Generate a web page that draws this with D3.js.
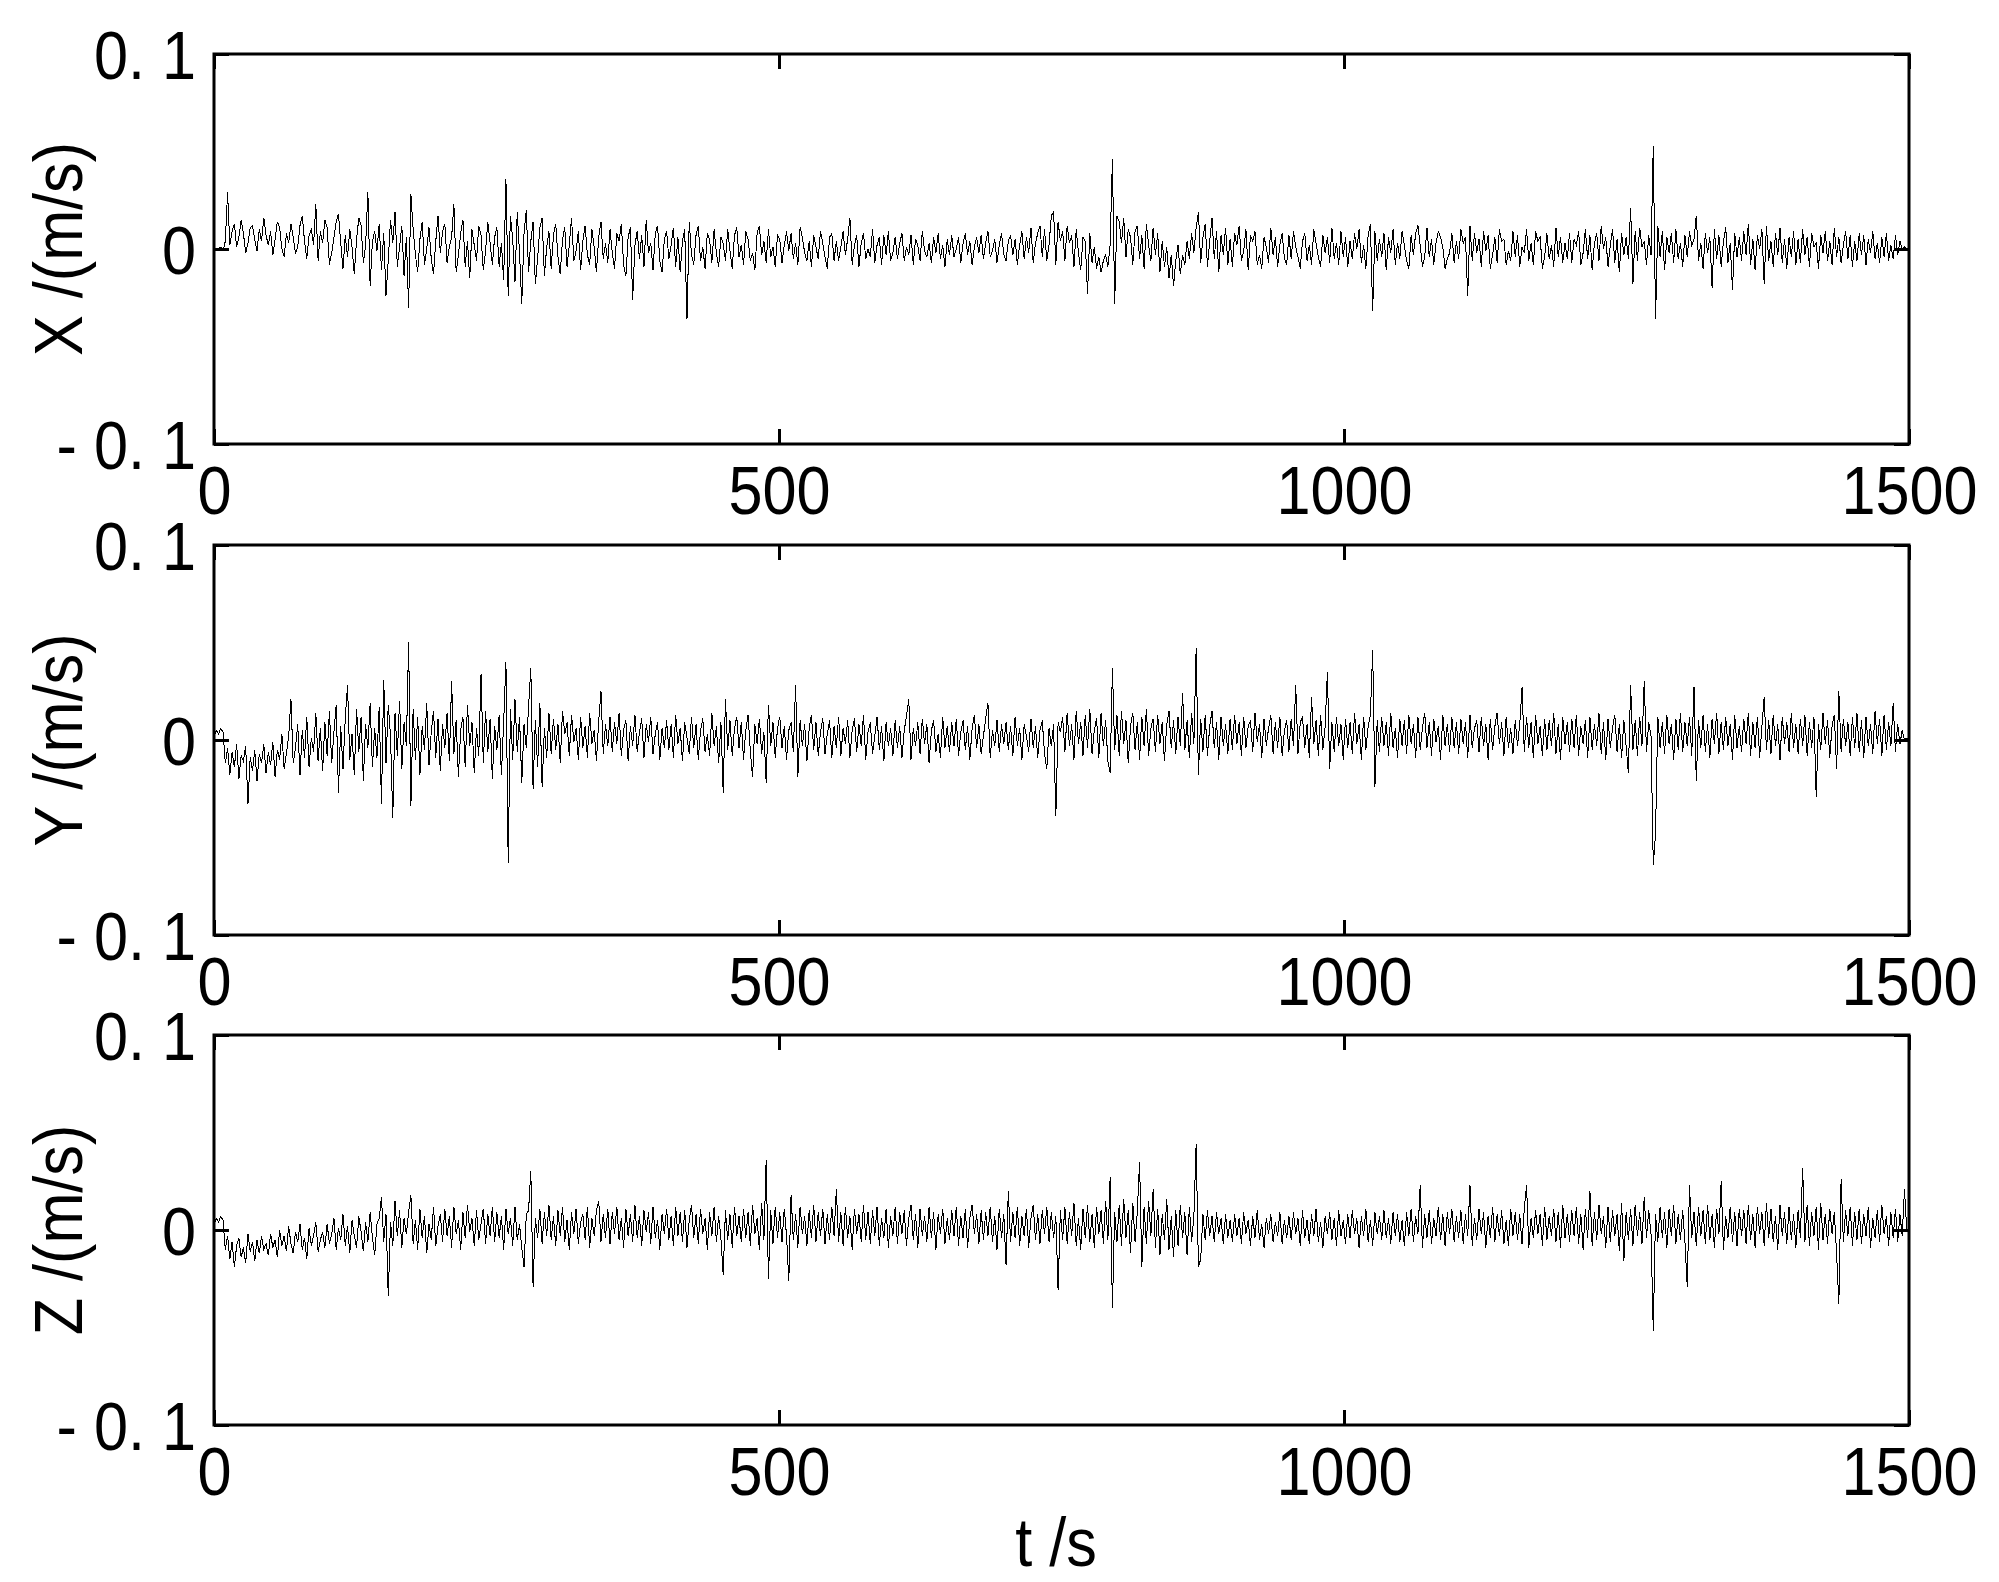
<!DOCTYPE html>
<html>
<head>
<meta charset="utf-8">
<script src="https://cdn.jsdelivr.net/npm/d3@7"></script>
<style>
  html, body { margin: 0; padding: 0; background: #fff; }
  svg { display: block; }
  text { font-family: "Liberation Sans", Arial, Helvetica, sans-serif; fill: #000; }
</style>
</head>
<body>
<svg id="chart" width="1999" height="1582"></svg>
<script>
// ---------------- DATA (velocity in units of 0.001 m/s, sampled every 2 s) ----------------
const UNIT = 0.001;
const T_START = 0, T_END = 1500;

const xVelocity = [
0,0,0,1,-1,4,29,2,9,13,1,6,15,8,-2,3,11,12,5,-1,10,4,16,7,2,
9,-3,5,14,11,0,-4,8,3,13,6,-2,1,12,17,4,-5,7,10,2,23,-6,9,3,15,
11,-8,-2,6,14,18,3,-10,7,-4,10,1,-13,5,16,12,-7,2,29,-19,4,9,-1,13,-11,
8,-24,-6,15,3,19,-9,1,12,-14,6,-30,28,10,-3,-12,5,14,-8,0,11,-5,-13,4,17,
-2,9,13,-7,1,6,23,-12,-3,8,15,-9,4,-15,10,2,-6,12,7,-11,-1,14,3,-8,6,
11,-9,3,-16,36,-24,17,5,-17,19,-2,-28,8,20,-12,4,14,-18,-5,11,16,-14,1,9,-10,
7,13,-4,-13,5,11,-9,2,16,-6,-1,9,-11,4,12,-3,-8,10,1,-12,6,14,-5,3,-7,
10,-2,-10,8,4,13,-8,-14,6,11,-26,2,9,-5,7,-9,15,-2,3,-11,8,12,-6,-12,5,
9,-5,2,11,-9,6,-12,4,10,-36,14,-3,-8,7,12,-6,1,-10,8,5,-7,10,-2,-9,6,
3,-6,10,-1,-10,7,11,-4,2,-8,9,5,-6,-2,-11,8,12,-3,4,-7,10,-4,1,-9,7,
5,-7,2,9,-1,8,-5,3,-8,11,6,-2,-6,4,-9,7,1,-5,9,3,-4,-10,6,8,-6,
4,-6,1,9,-3,5,16,-8,2,7,-9,3,8,-5,0,-4,10,-7,2,6,-8,7,-3,9,-6,
-2,6,-5,3,8,-6,1,-3,7,-8,5,2,-6,9,-1,-4,3,-7,6,-2,8,-5,2,-9,5,
-3,7,-4,0,6,-7,3,8,-3,4,-8,1,6,-2,7,-5,3,9,-4,-1,5,-7,2,8,-3,
-6,4,7,-3,5,-8,2,9,-5,6,-2,11,-7,3,8,12,-4,10,-6,2,17,19,-8,14,4,
9,-6,12,3,7,-9,10,-2,-11,6,4,-23,8,-7,1,-10,-4,-12,-6,-3,-9,2,46,-28,17,
14,3,16,-4,10,6,-8,9,12,-5,7,-10,13,2,-6,11,-3,8,-12,4,-9,1,-15,-3,-19,
-6,2,-13,-3,-8,4,-5,8,-2,11,19,-7,6,13,-9,4,16,-5,9,-12,7,-3,11,-8,5,
-9,8,2,12,-6,-1,10,-11,7,4,9,-8,-3,-10,6,1,-7,11,-3,6,-9,2,8,-5,-8,
7,-5,9,1,-4,-10,4,8,-6,2,-8,10,3,-4,-9,7,-2,6,-7,11,-5,3,-8,9,-4,
6,-9,4,-5,8,0,10,-7,2,-10,7,13,-32,9,-6,5,-4,8,-11,6,-2,10,-8,3,-5,
9,2,-6,-10,7,-3,8,12,2,-9,-4,11,-4,5,-8,3,9,6,1,-10,-5,-2,8,-7,4,
-5,10,3,6,-24,12,-6,8,-2,5,-9,9,-1,7,-10,-3,6,-7,10,4,5,-8,-1,-6,9,
-4,7,-9,1,-2,10,-6,3,-8,9,4,6,-10,-4,8,-5,2,-9,11,-4,6,-7,3,-5,8,
-7,5,2,9,-8,-2,10,-5,7,-11,3,8,-6,12,0,6,-9,2,10,-7,5,-12,8,-3,6,
-5,21,-18,9,-6,11,1,4,-8,7,-3,53,-36,12,-4,9,-11,6,-2,8,-7,10,-5,3,-9,
7,-4,9,2,5,17,-6,3,-10,8,-2,6,-20,10,-5,7,-9,4,11,-7,3,-21,8,-4,6,
-6,9,-3,13,-8,5,-11,7,0,10,-18,12,-6,4,-9,8,-3,11,-7,5,-10,6,-4,9,-8,
5,-7,10,-3,6,-9,8,1,3,-10,7,-2,9,-6,4,-8,11,-4,6,-7,2,9,-5,7,-9,
4,-6,8,-3,7,-8,5,-2,9,-5,3,-7,6,-4,8,-6,2,-5,7,-3,4,0,1,0,0
];

const yVelocity = [
2,5,3,6,4,-12,-4,-18,-6,-14,-2,-20,-8,-11,-3,-33,-9,-16,-5,-21,-7,-12,-2,-17,-6,
-13,-1,-19,-5,-10,3,-15,-7,2,21,-12,-4,8,-18,5,-9,12,-14,1,-6,14,-11,6,-16,9,
-8,15,-12,4,18,-27,7,-15,11,28,-10,3,-18,16,-6,12,-21,8,-4,19,-14,6,-9,17,-33,
31,-12,18,2,-40,14,-8,20,-15,9,-3,50,-34,16,-10,12,-18,7,-5,19,-13,4,15,-9,11,
-16,8,-4,14,-11,30,-7,10,-19,5,12,-14,18,-3,9,-17,6,-8,34,-12,15,-6,11,-20,7,
-5,13,-18,9,40,-63,16,-10,21,-6,12,-22,8,-4,17,37,-25,10,-14,19,-24,6,-9,14,-7,
11,-5,8,-12,15,3,9,-8,13,-1,6,-10,12,-4,7,-9,14,-2,5,-11,10,25,-7,8,-3,
12,-6,9,-2,14,-8,5,10,-11,7,-3,13,-6,4,11,-9,8,-1,12,-7,3,9,-10,6,-4,
10,-5,8,-9,13,-2,6,-11,9,1,-7,12,-4,8,-10,5,11,-6,3,-8,14,-3,7,-12,9,
-27,21,-5,10,-8,6,12,-4,9,-10,5,13,-6,-19,8,-2,11,-7,4,-22,18,-3,9,-9,6,
12,-4,7,-10,5,9,-6,28,-19,10,-3,8,-11,6,13,-5,9,-8,4,11,-7,3,10,-9,7,
-4,12,-8,6,-2,10,-9,5,11,-6,8,-3,13,-10,4,9,-7,2,12,-5,7,-11,9,-3,6,
-8,10,-4,7,-9,5,12,21,-10,6,-3,9,-7,11,-2,8,-12,5,10,-6,3,-9,12,-4,7,
-6,9,-3,11,-8,4,10,-5,7,-10,6,13,-4,8,-7,2,11,19,-9,5,-3,10,-6,8,-2,
9,-5,7,-8,12,-3,6,-10,8,2,-6,11,-4,7,-9,5,10,-7,-15,6,-3,8,-39,9,4,
12,-6,14,-3,8,-10,15,-2,9,-8,13,-4,16,-7,5,11,-9,14,-3,10,-11,-17,37,-5,13,
-8,15,-2,10,-12,7,14,-5,9,-10,12,-3,16,-8,6,11,-6,13,-2,9,-11,8,15,-4,10,
-7,12,-3,24,-5,10,-9,14,-2,47,-18,11,-6,13,-8,7,15,-4,9,-10,12,-3,8,-7,11,
-5,13,-2,9,-8,12,-4,7,10,-6,14,-1,8,-9,11,-3,6,13,-7,9,-4,12,-8,5,10,
-6,11,-3,28,-7,9,12,-4,8,-9,22,-2,10,-8,13,-5,7,35,-15,9,-6,12,-3,8,-10,
11,-4,9,-7,14,-2,8,-10,12,-5,7,13,46,-24,10,-6,12,-3,9,-8,14,-4,6,-9,11,
-3,10,-7,13,-2,8,-9,12,-5,6,14,-4,9,-8,11,-1,7,-10,13,-3,8,-6,12,-4,9,
-7,11,-2,9,-9,13,-4,6,10,-6,12,-3,8,-10,11,-5,7,14,-2,9,-8,12,-4,6,-7,
10,-3,8,27,-6,12,-4,9,-9,13,-2,7,-8,11,-5,10,-3,14,-7,8,-10,12,-2,9,-6,
11,-4,13,-8,7,-2,10,-9,12,-5,8,-3,14,-7,9,-10,11,-4,6,13,-6,8,-9,10,-3,
-17,28,-5,10,-8,12,-3,30,-6,9,2,-64,-48,12,-4,9,-7,13,-2,8,-10,11,-5,14,-6,
9,-3,12,-8,27,-21,10,-4,13,-6,8,-9,11,-2,14,-7,9,-5,12,-3,8,-10,13,-4,7,
-6,11,-2,14,-8,9,-4,12,-9,7,22,-5,10,-7,13,-3,8,-10,12,-2,9,-6,14,-4,8,
-7,11,-3,13,-8,9,-4,12,-29,8,-5,14,-2,10,-9,7,13,-15,25,-6,11,-3,9,-8,12,
-4,14,-6,10,-9,12,-3,8,-7,15,-2,11,-8,13,-5,9,-3,19,-6,8,-2,5,0,1,0
];

const zVelocity = [
3,6,4,7,5,-10,-3,-15,-6,-19,-8,-4,-14,-9,-17,-2,-11,-6,-16,-5,-12,-3,-10,-7,-13,
-2,-9,-5,-14,0,-8,-3,-11,2,-7,-12,-1,-6,3,-10,-4,-15,1,-8,-3,4,-11,-5,-1,-9,
3,-7,-2,6,-10,1,-5,8,-8,2,-12,5,-3,-9,7,-1,-11,4,-6,9,-4,-13,3,6,17,
-6,8,-34,4,-8,15,-3,10,-9,6,-2,9,18,-7,5,-10,11,-4,7,-12,3,-5,12,-8,2,
8,-6,11,-3,7,-9,12,-2,5,-10,9,-4,13,-1,6,-8,10,-5,3,11,-7,8,-3,12,-6,
9,-4,7,-10,11,-2,6,-8,12,-5,3,-9,-19,8,10,30,-29,6,-4,11,-7,9,-3,13,-5,
7,-8,10,-3,12,-6,5,-10,9,-2,11,-7,4,8,-5,12,-9,6,-3,10,15,-6,8,-4,11,
-7,9,-2,12,-5,6,-9,11,-3,8,-6,13,-4,7,-8,10,-1,9,-7,12,-4,5,-10,8,-2,
11,-5,7,-8,12,-3,9,-6,10,-9,5,13,-4,8,-7,11,-2,6,-10,9,-3,12,-6,7,-4,
-23,10,-5,8,-9,12,-3,7,-6,11,-4,9,-8,13,-2,6,-10,14,-5,36,-25,10,-7,12,-4,
9,-6,11,-3,-26,18,-5,8,-9,12,-2,7,-8,10,-4,13,-6,9,-3,11,-7,8,-5,12,-3,
21,-6,9,-8,12,-4,7,-10,11,-2,8,-6,13,-5,9,-7,10,-3,12,-8,6,-4,11,-9,7,
-3,12,-7,9,-2,10,-8,6,13,-5,8,-9,11,-3,7,-6,12,-4,9,-10,8,-2,11,-7,6,
-5,10,-3,12,-8,7,-4,11,-9,6,13,-2,8,-7,10,-5,9,-3,12,-6,7,-10,11,-4,8,
-18,20,-6,9,-4,12,-8,7,-3,11,-9,6,13,-5,8,-7,10,-2,12,-6,9,-4,7,-31,10,
-5,12,-7,9,-3,14,-8,6,-10,11,-4,13,-6,8,-9,12,-2,10,-7,15,-5,27,-40,9,-6,
13,-8,16,-4,10,-12,14,-6,9,35,-19,12,-7,15,-3,21,-9,11,-13,8,-5,16,-10,7,-14,
10,-8,13,-4,9,-13,12,-6,7,44,-19,-15,8,-5,10,-3,7,-6,9,-2,6,-7,8,-4,5,
-6,8,-3,6,-7,9,-2,5,-8,7,-4,10,-5,3,-9,6,-2,8,-6,4,-3,9,-7,5,-4,
7,-5,9,-2,6,-8,10,-4,5,-7,8,-3,11,-6,4,-9,7,-2,9,-5,6,-8,10,-3,5,
-7,8,-4,10,-2,6,-9,7,-3,11,-6,5,-8,9,-2,7,-5,10,-4,6,-7,9,-3,8,-6,
5,-8,9,-3,11,-6,7,-2,23,-9,8,-4,10,-7,6,-3,12,-5,8,-8,9,-2,11,-6,7,
-4,10,-7,8,-3,23,-8,6,-5,11,-2,9,-9,7,-4,12,-6,8,-3,10,-7,5,-8,11,-3,
9,-5,8,-7,11,23,-9,6,-4,10,-2,8,-8,12,-5,7,-3,11,-6,9,-9,13,-4,8,-6,
10,-3,12,-7,8,-10,11,-4,20,-8,9,-5,13,-2,7,-9,12,-6,10,-3,8,-11,14,-16,9,
-5,11,-8,13,-3,9,-7,17,-4,10,-2,-52,8,-6,12,-4,9,-9,11,-3,13,-7,8,-5,10,
-6,-29,23,-4,9,-8,12,-3,10,-7,13,-5,8,-9,11,-2,25,-10,7,-4,12,-6,9,-8,11,
-3,10,-7,13,-5,8,-9,12,-2,9,-8,14,-4,11,-6,7,-10,13,-3,9,-7,12,-5,8,-9,
10,-4,32,-6,13,-8,9,-3,12,-10,14,-5,8,-7,11,-2,9,-12,-38,26,-6,10,-3,12,-8,
9,-5,11,-7,8,-3,12,-9,6,-4,10,-6,13,-2,7,-8,9,-4,11,-6,8,-3,21,0,0
];

const seriesLabels = ["X /(m/s)", "Y /(m/s)", "Z /(m/s)"];
const xTickValues = [0, 500, 1000, 1500];
const xTickLabels = ["0", "500", "1000", "1500"];
const yTickValues = [-0.1, 0, 0.1];
const yTickLabels = ["- 0. 1", "0", "0. 1"];
const xAxisTitle = "t /s";

// ---------------- LAYOUT ----------------
const svg = d3.select("#chart");
const plotLeft = 214, plotRight = 1909;
const panelTops = [54, 545, 1035];
const panelHeight = 390;
const FONT = 68, SX = 0.9;
const TICK = 15;

const x = d3.scaleLinear().domain([T_START, T_END]).range([plotLeft, plotRight]);

const allSeries = [xVelocity, yVelocity, zVelocity];

svg.append("defs").selectAll("clipPath").data(panelTops).join("clipPath")
  .attr("id", (d, i) => "clip" + i)
  .append("rect").attr("x", plotLeft).attr("y", d => d)
  .attr("width", plotRight - plotLeft).attr("height", panelHeight);

allSeries.forEach((vals, i) => {
  const top = panelTops[i];
  const y = d3.scaleLinear().domain([-0.1, 0.1]).range([top + panelHeight, top]);
  const g = svg.append("g");
  const step = (T_END - T_START) / (vals.length - 1);

  // data trace
  const line = d3.line()
    .x((d, k) => x(T_START + k * step))
    .y(d => y(d * UNIT));
  g.append("path")
    .datum(vals)
    .attr("d", line)
    .attr("fill", "none")
    .attr("stroke", "#000")
    .attr("stroke-width", 1)
    .attr("shape-rendering", "crispEdges")
    .attr("clip-path", `url(#clip${i})`);

  // axes (ticks inside)
  const fmtY = v => yTickLabels[yTickValues.findIndex(t => Math.abs(t - v) < 1e-9)];
  const fmtX = v => xTickLabels[xTickValues.indexOf(v)];

  const axB = g.append("g").attr("transform", `translate(0,${top + panelHeight})`)
    .call(d3.axisBottom(x).tickValues(xTickValues).tickFormat(fmtX).tickSize(-TICK).tickPadding(22));
  const axT = g.append("g").attr("transform", `translate(0,${top})`)
    .call(d3.axisTop(x).tickValues(xTickValues).tickFormat("").tickSize(-TICK));
  const axL = g.append("g").attr("transform", `translate(${plotLeft},0)`)
    .call(d3.axisLeft(y).tickValues(yTickValues).tickFormat(fmtY).tickSize(-TICK).tickPadding(20));
  const axR = g.append("g").attr("transform", `translate(${plotRight},0)`)
    .call(d3.axisRight(y).tickValues(yTickValues).tickFormat("").tickSize(-TICK));

  [axB, axT, axL, axR].forEach(a => {
    a.select(".domain").remove();
    a.selectAll(".tick line").attr("stroke", "#000").attr("stroke-width", 3);
  });
  axB.selectAll(".tick text")
    .attr("font-size", FONT).attr("fill", "#000")
    .attr("font-family", "Liberation Sans, Arial, sans-serif")
    .attr("transform", `scale(${SX},1)`);
  axL.selectAll(".tick text")
    .attr("font-size", FONT).attr("fill", "#000")
    .attr("font-family", "Liberation Sans, Arial, sans-serif")
    .attr("dy", "0.36em")
    .attr("transform", `scale(${SX},1)`);

  // frame
  g.append("rect")
    .attr("x", plotLeft).attr("y", top)
    .attr("width", plotRight - plotLeft).attr("height", panelHeight)
    .attr("fill", "none").attr("stroke", "#000").attr("stroke-width", 3);

  // y title
  g.append("text")
    .attr("transform", `translate(82,${top + panelHeight / 2}) rotate(-90) scale(${SX},1)`)
    .attr("text-anchor", "middle")
    .attr("font-size", FONT)
    .text(seriesLabels[i]);
});

svg.append("text")
  .attr("transform", `translate(1056,1566) scale(${SX},1)`)
  .attr("text-anchor", "middle")
  .attr("font-size", FONT)
  .text(xAxisTitle);
</script>
</body>
</html>
